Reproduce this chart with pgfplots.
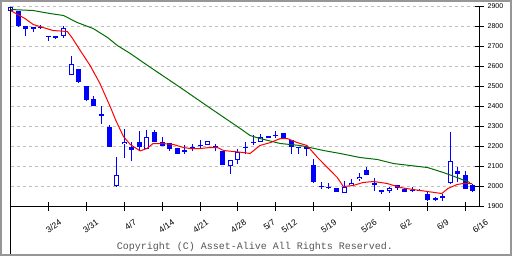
\documentclass[border=0pt]{standalone}
\usepackage{fontspec}
\setmainfont{Liberation Sans}
\newfontfamily\monofont{Liberation Mono}
\usepackage{pgfplots}
\usepackage{pgfplotstable}
\pgfplotsset{compat=1.18}
\definecolor{gridgray}{RGB}{190,190,190}
\definecolor{framegray}{RGB}{150,150,150}
\definecolor{magreen}{RGB}{0,110,0}
\definecolor{copygray}{RGB}{85,85,85}

% up (hollow) candles: i open high low close
\pgfplotstableread{
i o h l c
0 2880 2900 2880 2900
3 2788 2800 2772 2798
7 2753 2805 2743 2793
8 2560 2655 2560 2613
12 2353 2405 2313 2363
14 2005 2150 1997 2060
15 2213 2288 2143 2225
18 2188 2283 2188 2250
26 2210 2230 2207 2227
29 2105 2133 2063 2133
30 2133 2190 2113 2172
33 2225 2263 2225 2250
44 1968 2027 1968 2000
45 2008 2038 2008 2020
46 2038 2067 2030 2050
50 1977 1997 1968 1993
57 1943 1963 1930 1953
58 2018 2272 2013 2130
}\upc

% down (filled) candles: i open high low close
\pgfplotstableread{
i o h l c
1 2880 2880 2800 2805
2 2805 2805 2752 2788
4 2800 2810 2788 2796
5 2755 2755 2727 2747
6 2752 2752 2740 2743
9 2588 2588 2517 2522
10 2505 2505 2430 2435
11 2438 2455 2405 2405
13 2300 2310 2200 2200
16 2200 2225 2127 2183
17 2225 2280 2180 2197
19 2275 2283 2225 2225
20 2225 2247 2202 2202
21 2218 2218 2180 2188
22 2193 2193 2163 2163
23 2183 2210 2163 2172
24 2200 2213 2180 2188
25 2210 2233 2192 2202
27 2205 2213 2177 2200
28 2177 2177 2108 2108
31 2197 2222 2163 2193
32 2224 2260 2210 2220
34 2252 2252 2243 2243
35 2257 2277 2243 2253
36 2268 2268 2243 2243
37 2235 2235 2163 2200
38 2200 2200 2163 2193
39 2197 2210 2152 2188
40 2110 2138 2017 2022
41 2005 2022 1988 1997
42 2000 2018 1990 1992
43 1992 1992 1975 1975
47 2083 2097 2058 2058
48 2018 2043 1980 2010
49 1985 1985 1963 1972
51 2008 2010 1983 1993
52 1988 1993 1972 1972
53 1985 2000 1972 1977
54 1985 1987 1977 1977
55 1963 1972 1930 1935
56 1943 1950 1927 1933
59 2080 2097 2022 2063
60 2060 2080 1988 1988
61 2010 2012 1975 1980
}\downc

\tikzset{datelbl/.style={rotate=35, anchor=north east, inner sep=0pt, yshift=-15bp,
  font=\fontsize{8.5bp}{9bp}\selectfont}}
\pgfplotsset{candle/.style 2 args={draw=none, mark=none, forget plot,
  error bars/.cd, y dir=plus, y explicit, error mark=none,
  error bar style={draw=#1, solid, line width=#2}}}

\begin{document}
\begin{tikzpicture}
\useasboundingbox (0,0) rectangle (512bp,256bp);
\fill[white] (0,0) rectangle (512bp,256bp);
\begin{axis}[
  at={(10.5bp,49.5bp)}, anchor=south west,
  scale only axis, width=468.5bp, height=200bp,
  xmin=0, xmax=61.8, ymin=1900, ymax=2900,
  axis x line=bottom, axis y line=right,
  axis line style={-, black, line width=1bp},
  xtick={5,10,...,60}, xticklabels={},
  ytick={1900,2000,...,2900},
  xtick align=center, ytick align=center, major tick length=9bp,
  xtick style={draw=black, line width=1bp},
  ytick style={draw=black, line width=1bp},
  ymajorgrids,
  grid style={dash pattern=on 3bp off 3bp, gridgray, line width=1bp},
  yticklabel style={font=\fontsize{7bp}{8bp}\selectfont, anchor=west, inner sep=0pt, xshift=4bp},
  /pgf/number format/assume math mode=true,
  /pgf/number format/1000 sep={},
  clip=false,
]
% wicks
\addplot[candle={blue}{1bp}]
  table[x=i, y=l, y error expr=\thisrow{h}-\thisrow{l}] \upc;
\addplot[candle={blue}{1bp}]
  table[x=i, y=l, y error expr=\thisrow{h}-\thisrow{l}] \downc;
% filled bodies
\addplot[candle={blue}{5bp}]
  table[x=i, y=c, y error expr=\thisrow{o}-\thisrow{c}] \downc;
% hollow bodies
\addplot[candle={blue}{5bp}]
  table[x=i, y=o, y error expr=\thisrow{c}-\thisrow{o}] \upc;
\addplot[candle={white}{3bp}]
  table[x=i, y expr=\thisrow{o}+5, y error expr={max(\thisrow{c}-\thisrow{o}-10,0)}] \upc;
% moving averages
\addplot[magreen, line width=1bp, mark=none] coordinates {
(0,2885) (3,2880) (5.2,2865) (7,2855) (8.8,2820) (10.9,2790) (12.8,2745)
(14.1,2705) (15.8,2665) (18.4,2597) (22.4,2495) (26.3,2393) (30.3,2290)
(31.6,2255) (32.9,2240) (35.6,2215) (38.2,2205) (39.5,2195) (41.3,2180)
(43.5,2165) (46.1,2145) (48.4,2135) (50.5,2115) (52.7,2105) (55,2095)
(57.1,2070) (58.9,2045) (60.6,2020)
};
\addplot[red, line width=1bp, mark=none] coordinates {
(0,2880) (1.9,2840) (3,2810) (4.3,2795) (5.6,2780) (7.5,2775) (8.1,2745)
(9.2,2680) (10.5,2605) (11.8,2515) (13.2,2395) (13.9,2330) (14.9,2250)
(15.8,2210) (17.1,2178) (18,2190) (18.8,2215) (20.1,2215) (21.5,2210)
(22.8,2195) (23.7,2190) (25,2190) (26.3,2195) (27.3,2195) (28.1,2180)
(29.4,2175) (30.7,2170) (31.6,2165) (32.9,2205) (34.3,2220) (35.6,2240)
(36.5,2240) (37.8,2220) (39.1,2205) (40.5,2145) (41.8,2095) (43.1,2045)
(43.9,2000) (45.2,2005) (46.5,2020) (47.9,2025) (49.7,2015) (51.4,1995)
(53.1,1985) (55,1975) (56.9,1965) (57.7,1990) (58.9,2010) (59.7,2015) (60.9,2015)
};
% axis lines and tick marks
\draw[black, line width=1bp] (rel axis cs:0,0) -- (rel axis cs:0,1) -- ++(0,6bp);
\pgfplotsinvokeforeach{5,10,...,60}{
  \draw[black, line width=1bp] (axis cs:#1,1900) ++(0,-4.5bp) -- ++(0,9bp);
}
\pgfplotsinvokeforeach{1900,2000,...,2900}{
  \draw[black, line width=1bp] (axis cs:61.8,#1) ++(-4.5bp,0) -- ++(9bp,0);
}
% date labels
\node[datelbl] at (axis cs:5.21,1900) {3/24};
\node[datelbl] at (axis cs:10.09,1900) {3/31};
\node[datelbl] at (axis cs:15.1,1900) {4/7};
\node[datelbl] at (axis cs:20.1,1900) {4/14};
\node[datelbl] at (axis cs:24.6,1900) {4/21};
\node[datelbl] at (axis cs:29.6,1900) {4/28};
\node[datelbl] at (axis cs:33.4,1900) {5/7};
\node[datelbl] at (axis cs:36.3,1900) {5/12};
\node[datelbl] at (axis cs:41.5,1900) {5/19};
\node[datelbl] at (axis cs:46.8,1900) {5/26};
\node[datelbl] at (axis cs:51.4,1900) {6/2};
\node[datelbl] at (axis cs:56.3,1900) {6/9};
\node[datelbl] at (axis cs:61.5,1900) {6/16};
\end{axis}
\node[anchor=base, font=\monofont\fontsize{10bp}{12bp}\selectfont, text=copygray]
  at (255bp,7bp) {Copyright (C) Asset-Alive All Rights Reserved.};
\draw[framegray, line width=2bp] (1bp,1bp) rectangle (511bp,255bp);
\end{tikzpicture}
\end{document}
